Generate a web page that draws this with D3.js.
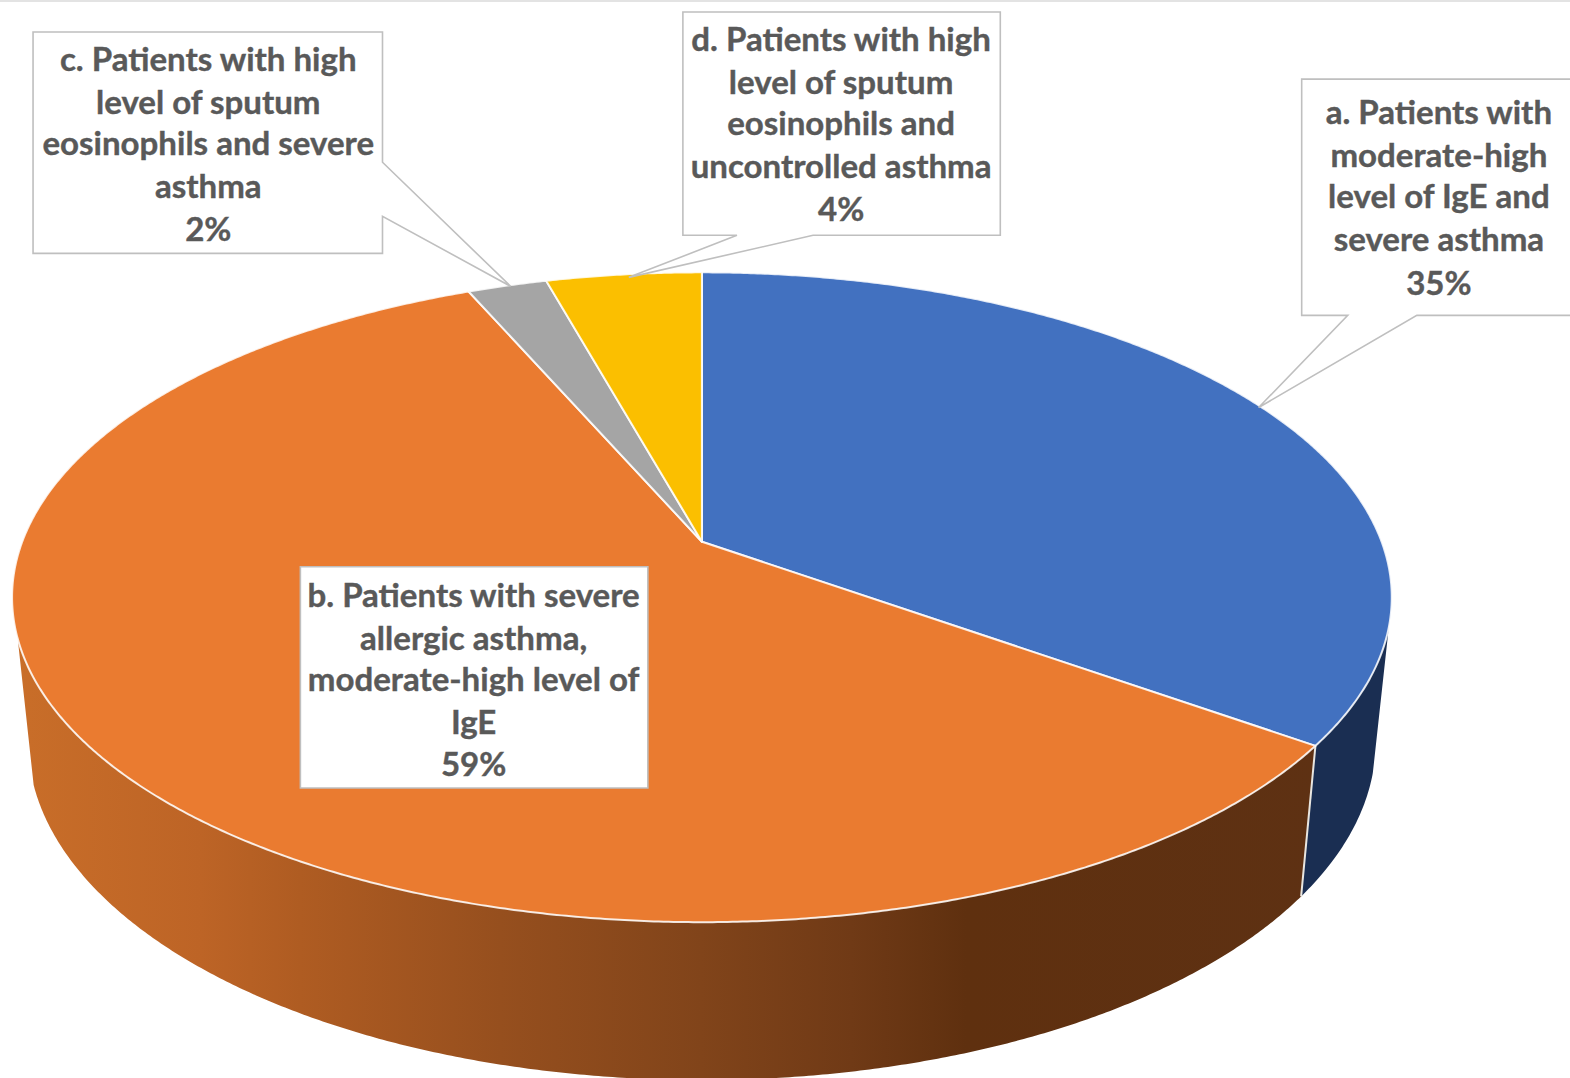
<!DOCTYPE html>
<html><head><meta charset="utf-8">
<style>html,body{margin:0;padding:0;background:#fff;overflow:hidden}svg{display:block}</style>
<script src="https://cdnjs.cloudflare.com/ajax/libs/d3/7.8.5/d3.min.js"></script>
</head><body><div id="chart"></div>
<script>
// Data
const categories = ["a","b","c","d"];
const values = [34.9, 58.6, 2.2, 4.3];
const percentLabels = ["35%","59%","2%","4%"];
const labelLinesA = ["a. Patients with","moderate-high","level of IgE and","severe asthma"];
const labelLinesB = ["b. Patients with severe","allergic asthma,","moderate-high level of","IgE"];
const labelLinesC = ["c. Patients with high","level of sputum","eosinophils and severe","asthma"];
const labelLinesD = ["d. Patients with high","level of sputum","eosinophils and","uncontrolled asthma"];
const topColors = ["#4271c0","#ea7b30","#a5a5a5","#fbbf00"];
const wallColors = ["#1a2e52","url(#wallOrange)","#62635f","#8f7200"];

const W=1570,H=1078;
const root=d3.select("#chart").append("svg").attr("width",W).attr("height",H);
const defs=root.append("defs");
const grad=defs.append("linearGradient").attr("id","wallOrange").attr("gradientUnits","userSpaceOnUse")
  .attr("x1",12).attr("x2",1320).attr("y1",0).attr("y2",0);
[[12,"#c96e29"],[200,"#bd6426"],[300,"#af5c22"],[500,"#964f1e"],[700,"#81441a"],[850,"#703a16"],[965,"#5f300f"],[1320,"#5e3113"]]
 .forEach(([x,c])=>grad.append("stop").attr("offset",(x-12)/1308).attr("stop-color",c));

// page's top hairline
root.append("rect").attr("x",0).attr("y",0).attr("width",W).attr("height",2).attr("fill","#e3e3e3");
const svg=root.append("g").attr("transform","scale(1.0013)");

// perspective projections of the unit disc: top face and bottom face
const cx=701, persp=0.171;
const project=(R,S,y0)=>a=>{
  const X=Math.sin(a),Y=-Math.cos(a),w=1-persp*Y;
  return [cx+R*X/w, y0+S*Y/w];
};
const topFace=project(678.8,315,541), botFace=project(663,328,683);
const apex=[cx,541];

const pie=d3.pie().sort(null).value(d=>d)(values);
const line=d3.line();
const arcPts=(f,a,b)=>{const n=Math.max(2,Math.ceil((b-a)/0.006));return d3.range(n+1).map(i=>f(a+(b-a)*i/n));};

// outer wall: only the part between the two silhouette generators is visible
const silR=105*Math.PI/180, silL=253*Math.PI/180;
const visible=pie.map((d,i)=>({i,a:Math.max(d.startAngle,silR),b:Math.min(d.endAngle,silL)})).filter(d=>d.b>d.a);
svg.append("g").selectAll("path").data(visible).join("path")
  .attr("d",d=>line(arcPts(topFace,d.a,d.b).concat(arcPts(botFace,d.a,d.b).reverse()))+"Z")
  .attr("fill",d=>wallColors[d.i]);
// seam between visible walls
svg.append("path").attr("d",line([topFace(pie[0].endAngle),botFace(pie[0].endAngle)]))
  .attr("stroke","#e9e6e0").attr("stroke-width",2).attr("fill","none");

// top face
svg.append("g").selectAll("path").data(pie).join("path")
  .attr("d",d=>line([apex].concat(arcPts(topFace,d.startAngle,d.endAngle)))+"Z")
  .attr("fill",(d,i)=>topColors[i]).attr("stroke","#fff").attr("stroke-opacity",0.85).attr("stroke-width",2).attr("stroke-linejoin","round");

// callouts
const callouts=[
 {i:0,lines:labelLinesA,tx:1437,base:[124,167,208,251,295],
  outline:[[1300,79],[1575,79],[1575,315],[1415,315],[1257,407],[1346,315],[1300,315]]},
 {i:1,lines:labelLinesB,tx:473,base:[606,649,690,733,775],
  outline:[[300,566],[647,566],[647,787],[300,787]]},
 {i:2,lines:labelLinesC,tx:208,base:[71,114,155,198,241],
  outline:[[33,32],[382,32],[382,162],[510,286],[382,216],[382,253],[33,253]]},
 {i:3,lines:labelLinesD,tx:840,base:[51,94,135,178,221],
  outline:[[682,12],[999,12],[999,235],[812,235],[628,277],[736,235],[682,235]]}
];
const g=svg.append("g").selectAll("g").data(callouts).join("g");
g.append("path").attr("d",d=>line(d.outline)+"Z").attr("fill","#fff").attr("stroke","#bfbfbf").attr("stroke-width",1.6);
g.each(function(d){
  const all=d.lines.concat([percentLabels[d.i]]);
  d3.select(this).selectAll("text").data(all).join("text")
   .attr("x",d.tx).attr("y",(t,k)=>d.base[k]).attr("text-anchor","middle")
   .attr("font-family","Lato, 'Open Sans', sans-serif").attr("font-weight",700).attr("font-size",33)
   .attr("stroke","#595959").attr("stroke-width",0.4)
   .attr("fill","#595959").text(t=>t);
});
</script></body></html>
